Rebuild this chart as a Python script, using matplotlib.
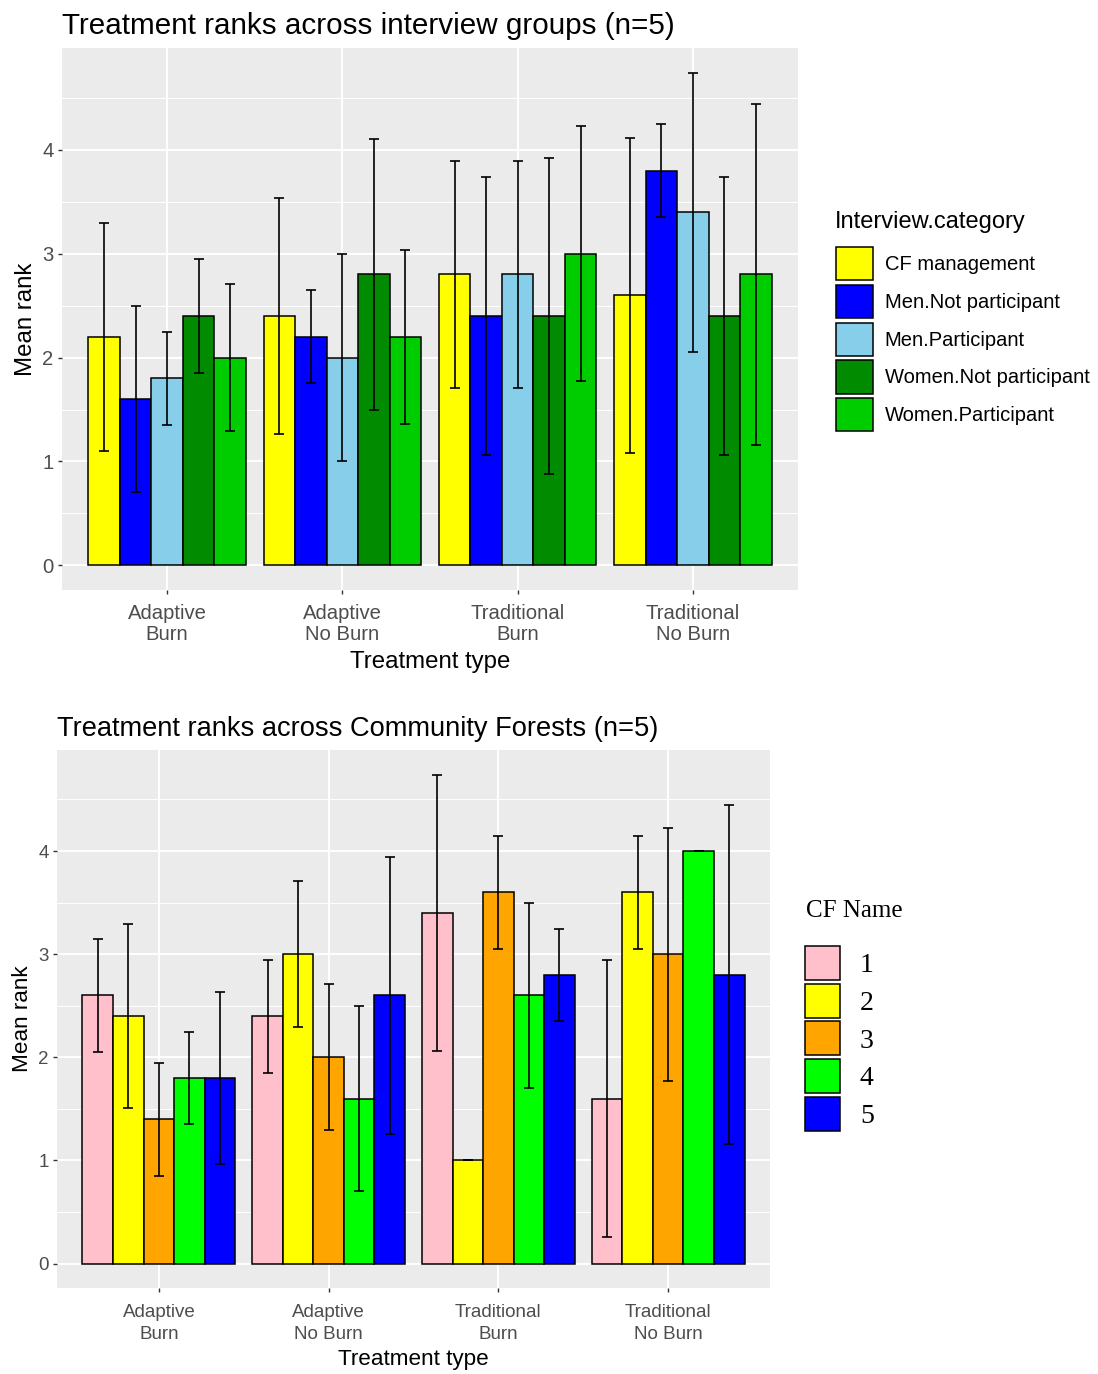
import numpy as np
import matplotlib
matplotlib.use("Agg")
import matplotlib.pyplot as plt
from matplotlib.ticker import MultipleLocator

plt.rcParams['font.family'] = ['Liberation Sans', 'DejaVu Sans']

# ---------------- data ----------------
treatments = ["Adaptive\nBurn", "Adaptive\nNo Burn", "Traditional\nBurn", "Traditional\nNo Burn"]

groups = ["CF management", "Men.Not participant", "Men.Participant",
          "Women.Not participant", "Women.Participant"]
group_colors = ["#FFFF00", "#0000FF", "#87CEEB", "#008B00", "#00CD00"]
cf_management_mean = [2.2, 2.4, 2.8, 2.6]
men_not_mean = [1.6, 2.2, 2.4, 3.8]
men_part_mean = [1.8, 2.0, 2.8, 3.4]
women_not_mean = [2.4, 2.8, 2.4, 2.4]
women_part_mean = [2.0, 2.2, 3.0, 2.8]
cf_management_sd = [1.095, 1.140, 1.095, 1.517]
men_not_sd = [0.894, 0.447, 1.342, 0.447]
men_part_sd = [0.447, 1.000, 1.095, 1.342]
women_not_sd = [0.548, 1.304, 1.517, 1.342]
women_part_sd = [0.707, 0.837, 1.225, 1.643]

cf_names = ["1", "2", "3", "4", "5"]
cf_colors = ["#FFC0CB", "#FFFF00", "#FFA500", "#00FF00", "#0000FF"]
cf1_mean = [2.6, 2.4, 3.4, 1.6]
cf2_mean = [2.4, 3.0, 1.0, 3.6]
cf3_mean = [1.4, 2.0, 3.6, 3.0]
cf4_mean = [1.8, 1.6, 2.6, 4.0]
cf5_mean = [1.8, 2.6, 2.8, 2.8]
cf1_sd = [0.548, 0.548, 1.342, 1.342]
cf2_sd = [0.894, 0.707, 0.0, 0.548]
cf3_sd = [0.548, 0.707, 0.548, 1.225]
cf4_sd = [0.447, 0.894, 0.894, 0.0]
cf5_sd = [0.837, 1.342, 0.447, 1.643]

top_means = [cf_management_mean, men_not_mean, men_part_mean, women_not_mean, women_part_mean]
top_sds = [cf_management_sd, men_not_sd, men_part_sd, women_not_sd, women_part_sd]
bot_means = [cf1_mean, cf2_mean, cf3_mean, cf4_mean, cf5_mean]
bot_sds = [cf1_sd, cf2_sd, cf3_sd, cf4_sd, cf5_sd]

W, H = 1098, 1374
fig = plt.figure(figsize=(W / 100, H / 100), dpi=100)


def px_axes(l, t, r, b):
    return fig.add_axes([l / W, 1 - b / H, (r - l) / W, (b - t) / H])


def draw_panel(ax, means, sds, names, colors, title, tick_fs, lab_fs, title_fs,
               xpad, xlabpad, linesp):
    ax.set_facecolor("#EBEBEB")
    x = np.arange(1, len(treatments) + 1)
    n = len(names)
    bw = 0.9 / n
    handles = []
    for i in range(n):
        xi = x + (i - (n - 1) / 2) * bw
        h = ax.bar(xi, means[i], width=bw, color=colors[i], edgecolor="black",
                   linewidth=1.1, zorder=3, label=names[i])
        handles.append(h)
        ax.errorbar(xi, means[i], yerr=sds[i], fmt="none", ecolor="black",
                    elinewidth=1.2, capsize=3.5, capthick=1.2, zorder=4)
    ax.set_xlim(0.4, 4.6)
    ax.set_ylim(-0.237, 4.98)
    ax.set_xticks(x)
    ax.set_xticklabels(treatments, linespacing=linesp)
    ax.yaxis.set_major_locator(MultipleLocator(1))
    ax.yaxis.set_minor_locator(MultipleLocator(0.5))
    ax.grid(which="major", color="white", linewidth=1.4, zorder=0)
    ax.grid(which="minor", axis="y", color="white", linewidth=0.7, zorder=0)
    ax.set_axisbelow(True)
    for s in ax.spines.values():
        s.set_visible(False)
    ax.tick_params(axis="both", which="major", length=3, width=1.0, color="#333333",
                   labelcolor="#4D4D4D", labelsize=tick_fs, pad=3)
    ax.tick_params(axis="x", which="major", pad=xpad)
    ax.tick_params(axis="y", which="minor", length=0)
    ax.set_xlabel("Treatment type", fontsize=lab_fs, color="black", labelpad=xlabpad)
    ax.set_ylabel("Mean rank", fontsize=lab_fs, color="black", labelpad=4)
    ax.set_title(title, fontsize=title_fs, loc="left", x=0.0, pad=10, color="black")
    return handles


# ---------------- top panel ----------------
ax1 = px_axes(62, 48, 798, 590)
h1 = draw_panel(ax1, top_means, top_sds, groups, group_colors,
                "Treatment ranks across interview groups (n=5)",
                tick_fs=14.6, lab_fs=17.3, title_fs=21.3, xpad=7.2, xlabpad=5.0,
                linesp=1.15)
fig.text(835 / W, 1 - 222 / H, "Interview.category", fontsize=17,
         ha="left", va="center")
leg1 = fig.legend(handles=h1, labels=groups, loc="upper left",
                  bbox_to_anchor=(836 / W, 1 - 247 / H), frameon=False,
                  fontsize=14.5, handlelength=1.82, handleheight=2.17,
                  labelspacing=0.22, handletextpad=0.6, borderpad=0.0,
                  borderaxespad=0.0)

# ---------------- bottom panel ----------------
ax2 = px_axes(57, 750, 770, 1288)
h2 = draw_panel(ax2, bot_means, bot_sds, cf_names, cf_colors,
                "Treatment ranks across Community Forests (n=5)",
                tick_fs=13.5, lab_fs=16.2, title_fs=19.6, xpad=8.5, xlabpad=5.0,
                linesp=1.35)
fig.text(806 / W, 1 - 911 / H, "CF Name", fontsize=18, family="Liberation Serif",
         ha="left", va="center")
leg2 = fig.legend(handles=h2, labels=cf_names, loc="upper left",
                  bbox_to_anchor=(805 / W, 1 - 946 / H), frameon=False,
                  prop={"family": "Liberation Serif", "size": 20},
                  handlelength=1.26, handleheight=1.51,
                  labelspacing=0.13, handletextpad=0.72, borderpad=0.0,
                  borderaxespad=0.0)

fig.savefig("out.png", dpi=100)
